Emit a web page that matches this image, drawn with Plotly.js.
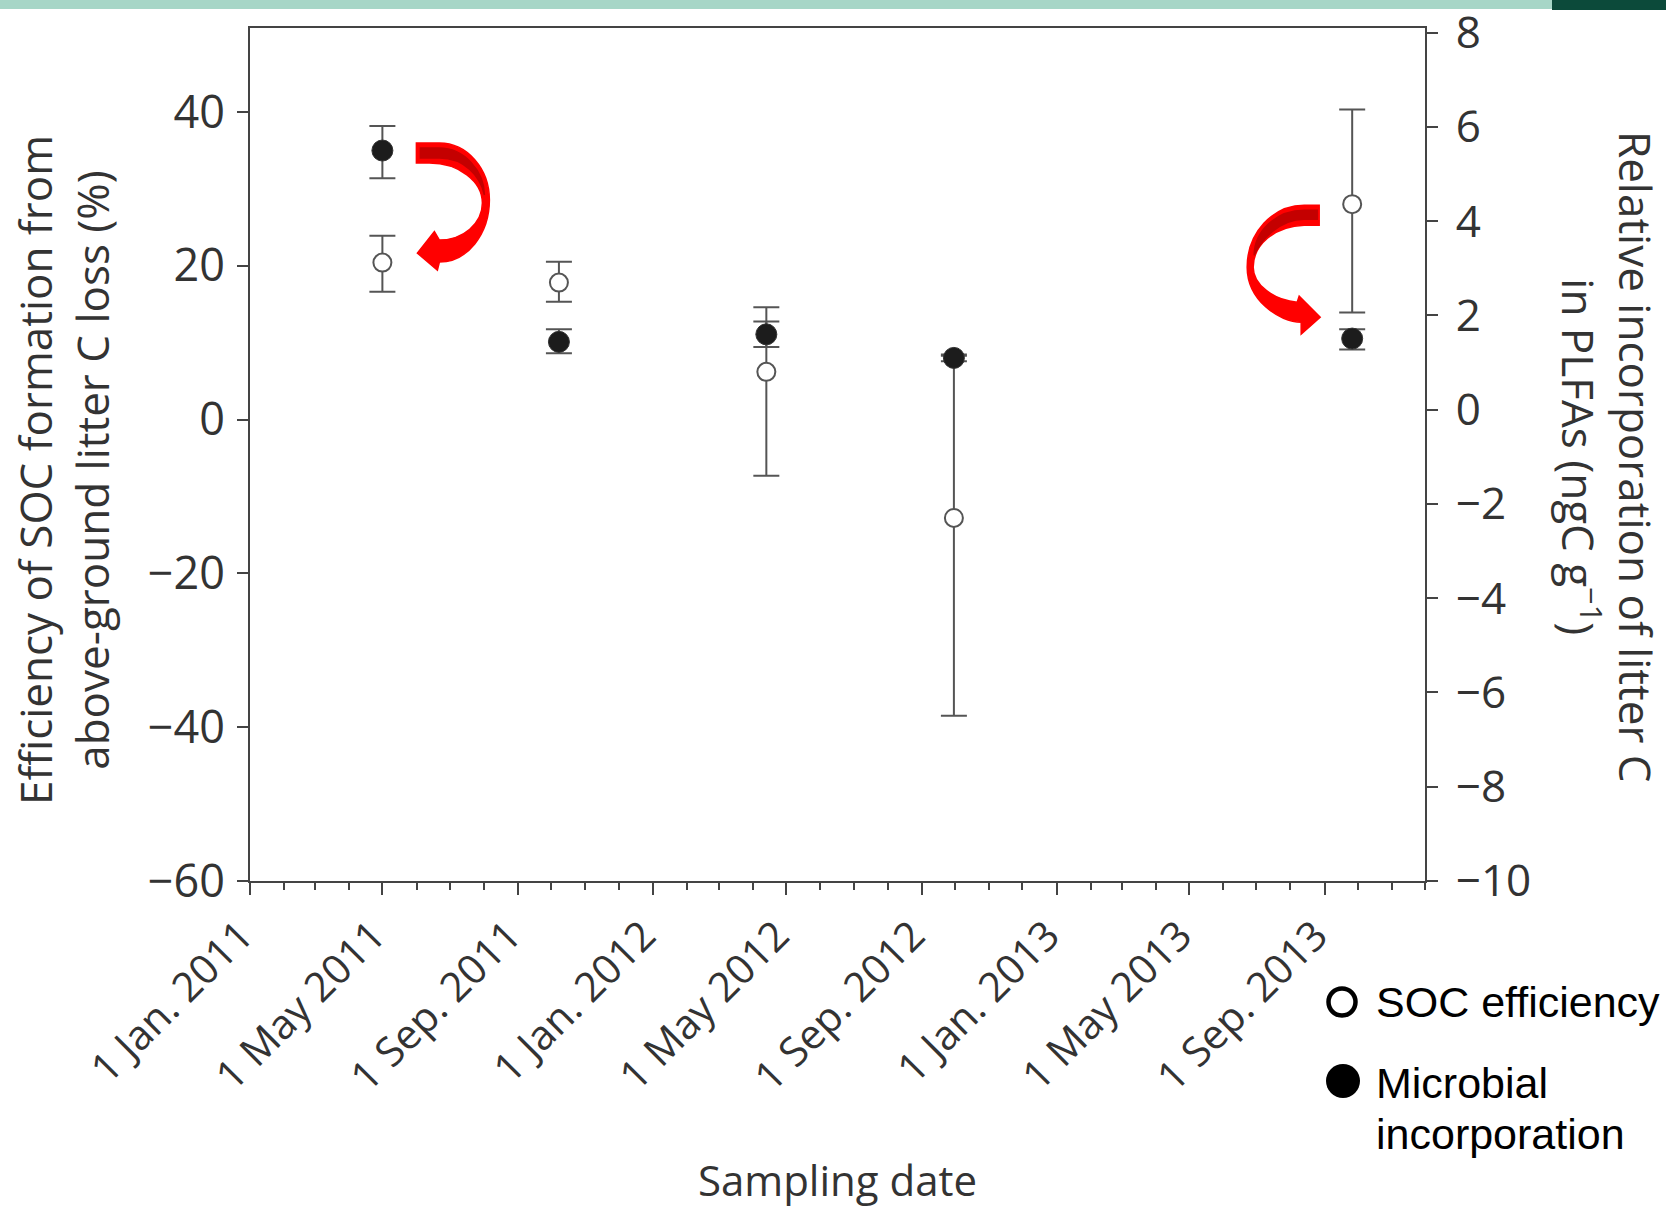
<!DOCTYPE html>
<html>
<head>
<meta charset="utf-8">
<script src="https://cdn.plot.ly/plotly-3.0.1.min.js"></script>
<style>
html,body{margin:0;padding:0;background:#ffffff;}
#chart{width:1666px;height:1208px;}
</style>
</head>
<body>
<div id="chart"></div>
<script>
// ---- data ----
const sampleDates = ['2011-05-01', '2011-10-08', '2012-04-13', '2012-09-30', '2013-09-26'];

// SOC efficiency (left axis, %)
const socEfficiency = [20.4, 17.8, 6.2, -12.8, 28.0];
const socUpper      = [23.9, 20.5, 14.6, 8.3, 40.3];
const socLower      = [16.6, 15.3, -7.3, -38.5, 13.9];

// Microbial incorporation (right axis, ngC g-1)
const microbialInc   = [5.50, 1.44, 1.60, 1.10, 1.51];
const microbialUpper = [6.02, 1.71, 1.87, 1.17, 1.71];
const microbialLower = [4.91, 1.20, 1.33, 1.03, 1.28];

// tick labels
const xTickVals = ['2011-01-01', '2011-05-01', '2011-09-01', '2012-01-01', '2012-05-01',
                   '2012-09-01', '2013-01-01', '2013-05-01', '2013-09-01'];
const xTickText = ['1 Jan. 2011', '1 May 2011', '1 Sep. 2011', '1 Jan. 2012', '1 May 2012',
                   '1 Sep. 2012', '1 Jan. 2013', '1 May 2013', '1 Sep. 2013'];
const yLeftTicks  = [-60, -40, -20, 0, 20, 40];
const yRightTicks = [-10, -8, -6, -4, -2, 0, 2, 4, 6, 8];
const legendLabels = ['SOC efficiency', 'Microbial', 'incorporation'];

// ---- layout geometry ----
const W = 1666, H = 1208;
const PL = 250, PR = 1425, PT = 28, PB = 881;
const px2x = p => (p - PL) / (PR - PL);
const py2y = p => (PB - p) / (PB - PT);

const socPlus  = socUpper.map((u, i) => +(u - socEfficiency[i]).toFixed(3));
const socMinus = socLower.map((l, i) => +(socEfficiency[i] - l).toFixed(3));
const micPlus  = microbialUpper.map((u, i) => +(u - microbialInc[i]).toFixed(3));
const micMinus = microbialLower.map((l, i) => +(microbialInc[i] - l).toFixed(3));

const errColor = '#555555';
const axisColor = '#444444';
const textColor = '#333333';
const baseFont = 'Open Sans, DejaVu Sans, sans-serif';

const traceSOC = {
  type: 'scatter', mode: 'markers', name: legendLabels[0],
  x: sampleDates, y: socEfficiency, yaxis: 'y',
  marker: {symbol: 'circle', size: 18, color: '#ffffff', line: {color: '#555555', width: 2}},
  error_y: {type: 'data', symmetric: false, array: socPlus, arrayminus: socMinus,
            color: errColor, thickness: 2, width: 13},
  cliponaxis: false, showlegend: false, hoverinfo: 'x+y'
};

const traceMic = {
  type: 'scatter', mode: 'markers', name: legendLabels[1] + ' ' + legendLabels[2],
  x: sampleDates, y: microbialInc, yaxis: 'y2',
  marker: {symbol: 'circle', size: 21, color: '#1c1c1c', line: {color: '#333333', width: 1}},
  error_y: {type: 'data', symmetric: false, array: micPlus, arrayminus: micMinus,
            color: errColor, thickness: 2, width: 13},
  cliponaxis: false, showlegend: false, hoverinfo: 'x+y'
};

// curved red arrows, anchored on the SOC data points, path offsets in pixels
const arrow1Anchor = {x: sampleDates[0], y: socEfficiency[0]};
const arrow2Anchor = {x: sampleDates[4], y: socEfficiency[4]};
const arrow1Body = 'M 34 119.5 L 57 119.5 C 84.6 119.5 107 94 107 62.5 C 107 28.3 84.6 0.5 57 0.5 ' +
                   'L 55 -7.5 L 35 9.5 L 52 31 L 57 22.5 C 80.7 22.5 100 39.1 100 59.5 ' +
                   'C 100 81.6 76.3 99.5 47 99.5 L 34 99.5 Z';
const arrow1Dark = 'M 38 114.5 L 57 114.5 C 81.9 114.5 102 91.2 102 67.5 C 98 86.5 82 104.5 57 104.5 L 38 104.5 Z';
const arrow2Body = 'M -33 -1 L -48 -1 C -79.5 -1 -105 -28.8 -105 -63 C -105 -96 -73 -118 -51 -118 ' +
                   'L -51 -130 L -32 -113 L -53 -92 L -55 -98 C -78 -96 -99 -81 -99 -63 ' +
                   'C -99 -41 -78 -22 -48 -21 L -33 -21 Z';
const arrow2Dark = 'M -35 -6 L -48 -6 C -77 -6 -98 -28 -98 -51 C -91 -36 -73 -15 -48 -15 L -35 -15 Z';

function arrowShape(anchor, path, fill) {
  return {
    type: 'path', xref: 'x', yref: 'y', xsizemode: 'pixel', ysizemode: 'pixel',
    xanchor: anchor.x, yanchor: anchor.y, path: path,
    fillcolor: fill, line: {color: fill, width: 1.5}, layer: 'above'
  };
}

const shapes = [
  // top decorative band of the slide
  {type: 'rect', xref: 'paper', yref: 'paper', x0: px2x(0), x1: px2x(1552), y0: py2y(9), y1: py2y(-2),
   fillcolor: '#a7d6c7', line: {width: 0}, layer: 'above'},
  {type: 'rect', xref: 'paper', yref: 'paper', x0: px2x(1552), x1: px2x(W + 2), y0: py2y(10), y1: py2y(-2),
   fillcolor: '#0c4a3a', line: {width: 0}, layer: 'above'},
  arrowShape(arrow1Anchor, arrow1Body, '#ff0000'),
  arrowShape(arrow1Anchor, arrow1Dark, '#c40000'),
  arrowShape(arrow2Anchor, arrow2Body, '#ff0000'),
  arrowShape(arrow2Anchor, arrow2Dark, '#c40000'),
  // legend symbols
  {type: 'circle', xref: 'paper', yref: 'paper', xsizemode: 'pixel', ysizemode: 'pixel',
   xanchor: px2x(1342), yanchor: py2y(1002), x0: -13.5, x1: 13.5, y0: -13.5, y1: 13.5,
   fillcolor: '#ffffff', line: {color: '#000000', width: 4.5}},
  {type: 'circle', xref: 'paper', yref: 'paper', xsizemode: 'pixel', ysizemode: 'pixel',
   xanchor: px2x(1343), yanchor: py2y(1081), x0: -17, x1: 17, y0: -17, y1: 17,
   fillcolor: '#000000', line: {color: '#000000', width: 0}}
];

const legendFont = {family: 'Liberation Sans, Arial, sans-serif', size: 43, color: '#000000'};
const annotations = [
  {xref: 'paper', yref: 'paper', x: px2x(63), y: py2y(470), xanchor: 'center', yanchor: 'middle',
   textangle: -90, showarrow: false,
   text: 'Efficiency of SOC formation from<br>above-ground litter C loss (%)',
   font: {family: baseFont, size: 44, color: textColor}},
  {xref: 'paper', yref: 'paper', x: px2x(1608), y: py2y(457), xanchor: 'center', yanchor: 'middle',
   textangle: 90, showarrow: false,
   text: 'Relative incorporation of litter C<br>in PLFAs (ngC g<sup>\u22121</sup>)',
   font: {family: baseFont, size: 44, color: textColor}},
  {xref: 'paper', yref: 'paper', x: px2x(1374), y: py2y(1002), xanchor: 'left', yanchor: 'middle',
   showarrow: false, text: legendLabels[0], font: legendFont},
  {xref: 'paper', yref: 'paper', x: px2x(1374), y: py2y(1083), xanchor: 'left', yanchor: 'middle',
   showarrow: false, text: legendLabels[1], font: legendFont},
  {xref: 'paper', yref: 'paper', x: px2x(1374), y: py2y(1134), xanchor: 'left', yanchor: 'middle',
   showarrow: false, text: legendLabels[2], font: legendFont}
];

const commonAxis = {
  ticks: 'outside', tickwidth: 2, tickcolor: axisColor,
  showline: true, linecolor: axisColor, linewidth: 2,
  showgrid: false, zeroline: false,
  tickfont: {family: baseFont, size: 45, color: textColor}
};

const layout = {
  width: W, height: H,
  margin: {l: PL, r: W - PR, t: PT, b: H - PB, pad: 0},
  paper_bgcolor: '#ffffff', plot_bgcolor: '#ffffff',
  showlegend: false,
  font: {family: baseFont, color: textColor},
  xaxis: Object.assign({}, commonAxis, {
    type: 'date', range: ['2011-01-01', '2013-12-01'],
    tickmode: 'array', tickvals: xTickVals, ticktext: xTickText,
    tickangle: -45, ticklen: 12, mirror: true, ticklabelshift: -9,
    tickfont: {family: baseFont, size: 41, color: textColor},
    minor: {tick0: '2011-01-01', dtick: 'M1', ticks: 'outside', ticklen: 7,
            tickwidth: 1.5, tickcolor: axisColor, showgrid: false},
    title: {text: 'Sampling date', font: {family: baseFont, size: 42, color: textColor}, standoff: 66}
  }),
  yaxis: Object.assign({}, commonAxis, {
    range: [-60, 50.9], tickmode: 'array', tickvals: yLeftTicks, ticklen: 11, ticklabelstandoff: 3
  }),
  yaxis2: Object.assign({}, commonAxis, {
    overlaying: 'y', side: 'right', tickfont: {family: baseFont, size: 44, color: textColor},
    range: [-10, 8.1], tickmode: 'array', tickvals: yRightTicks, ticklen: 11, ticklabelstandoff: 9
  }),
  shapes: shapes,
  annotations: annotations
};

Plotly.newPlot('chart', [traceSOC, traceMic], layout, {displayModeBar: false, responsive: false});
</script>
</body>
</html>
